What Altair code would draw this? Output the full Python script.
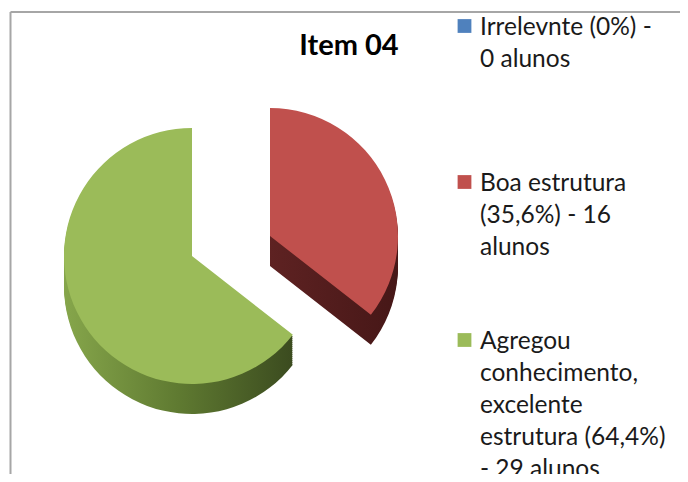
import math
import altair as alt
import pandas as pd

# ---- data ----
title_text = "Item 04"
categories = ["Irrelevnte", "Boa estrutura", "Agregou conhecimento, excelente estrutura"]
students = [0, 16, 29]
legend_labels = [
    "Irrelevnte (0%) -\n0 alunos",
    "Boa estrutura\n(35,6%) - 16\nalunos",
    "Agregou\nconhecimento,\nexcelente\nestrutura (64,4%)\n- 29 alunos",
]
top_colors = ["#4f81bd", "#c0504d", "#9bbb59"]

df = pd.DataFrame({"category": categories, "students": students,
                   "order": list(range(len(categories))), "label": legend_labels})

# ---- styling / layout ----
W, H = 672, 466
R = 128
DEPTH = 30
centers = {categories[0]: (250, 230), categories[1]: (262, 228), categories[2]: (184, 248)}
side_fill = {
    categories[0]: "#2c4a70",
    categories[1]: alt.Gradient(gradient="linear", x1=0, x2=1, y1=0, y2=0,
                                stops=[alt.GradientStop(color="#5e2222", offset=0),
                                       alt.GradientStop(color="#461717", offset=1)]),
    categories[2]: alt.Gradient(gradient="linear", x1=0, x2=1, y1=0, y2=0,
                                stops=[alt.GradientStop(color="#86a64b", offset=0),
                                       alt.GradientStop(color="#5f7a31", offset=0.5),
                                       alt.GradientStop(color="#3b4b1f", offset=1)]),
}

base = (alt.Chart(df)
        .transform_window(cum="sum(students)", sort=[alt.SortField("order")], frame=[None, 0])
        .transform_joinaggregate(total="sum(students)")
        .transform_calculate(t0="(datum.cum - datum.students) / datum.total",
                             t1="datum.cum / datum.total"))

theta = alt.Theta("t0:Q", scale=alt.Scale(domain=[0, 1], range=[0, 2 * math.pi]))
theta2 = alt.Theta2("t1:Q")

side_layers = []
top_layers = []
for cat, col in zip(categories[1:], top_colors[1:]):
    cx, cy = centers[cat]
    sl = base.transform_filter(alt.datum.category == cat)
    for off in range(DEPTH, 0, -2):
        side_layers.append(
            sl.mark_arc(outerRadius=R, fill=side_fill[cat], strokeWidth=0)
              .encode(theta=theta, theta2=theta2, x=alt.value(cx), y=alt.value(cy + off))
        )
    top_layers.append(
        sl.mark_arc(outerRadius=R, fill=col, strokeWidth=0)
          .encode(theta=theta, theta2=theta2, x=alt.value(cx), y=alt.value(cy))
    )

color_scale = alt.Scale(domain=categories, range=top_colors)
legend_y = [18, 174, 332]
legend_layers = []
for cat, ly in zip(categories, legend_y):
    leg = alt.Chart(df).transform_filter(alt.datum.category == cat)
    legend_layers.append(
        leg.mark_square(size=190, opacity=1, filled=True)
           .encode(x=alt.value(456.5), y=alt.value(ly),
                   color=alt.Color("category:N", scale=color_scale, legend=None))
    )
    legend_layers.append(
        leg.mark_text(align="left", baseline="alphabetic", lineBreak="\n", lineHeight=32,
                      font="Lato", fontSize=24.5, color="#1a1a1a")
           .encode(x=alt.value(472), y=alt.value(ly + 9), text="label:N")
    )

title_layer = (alt.Chart(pd.DataFrame({"t": [title_text]}))
               .mark_text(align="center", baseline="alphabetic", font="Lato",
                          fontSize=29, fontWeight="bold", color="#000000")
               .encode(x=alt.value(341), y=alt.value(47), text="t:N"))

one = pd.DataFrame({"k": [0]})
border_top = alt.Chart(one).mark_rule(color="#a6a6a6", strokeWidth=2).encode(
    x=alt.value(2.5), x2=alt.value(W), y=alt.value(4))
border_left = alt.Chart(one).mark_rule(color="#a6a6a6", strokeWidth=2).encode(
    x=alt.value(2.5), y=alt.value(4), y2=alt.value(H))

chart = alt.layer(*side_layers, *top_layers, *legend_layers, title_layer,
                  border_top, border_left).properties(
    width=W, height=H, padding=0,
    autosize=alt.AutoSizeParams(type="none"),
).configure_view(strokeWidth=0)

chart.save("out.html", embed_options={"renderer": "svg", "actions": False})
